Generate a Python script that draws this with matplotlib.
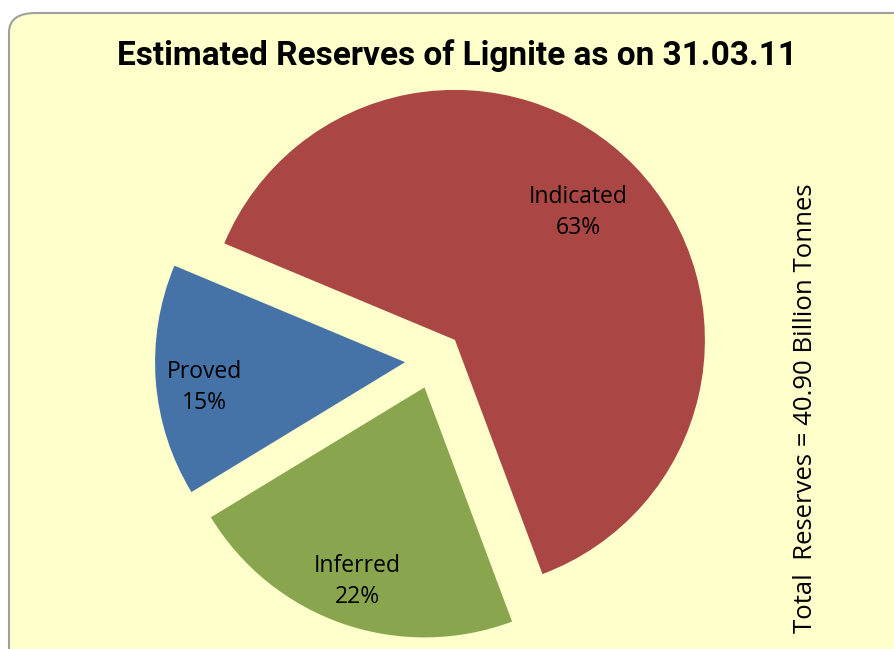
"""
pie of estimated lignite reserves, 31.03.11
"""

import numpy as np
import matplotlib
matplotlib.use("Agg")
import matplotlib.pyplot as plt
from matplotlib.patches import FancyBboxPatch

categories = ["Proved", "Indicated", "Inferred"]
shares = [15, 63, 22]
colors = ["#4572A7", "#AA4643", "#89A54E"]
label_dist = [0.81, 0.71, 0.82]
label_turn = [2.8, 2.0, 0.0]   # small angular nudge of each label, degrees

TITLE = "Estimated Reserves of Lignite as on 31.03.11"
SIDE_NOTE = "Total  Reserves = 40.90 Billion Tonnes"

W, H = 894, 649
fig = plt.figure(figsize=(W / 100, H / 100), dpi=100)
fig.patch.set_facecolor("white")

# rounded panel behind everything
panel = FancyBboxPatch((9 / W, -40 / H), (W + 20) / W, (H + 40 - 13) / H,
                       boxstyle="round,pad=0,rounding_size=0.03",
                       transform=fig.transFigure, facecolor="#FFFFCC",
                       edgecolor="#A0A0A0", linewidth=1.5, zorder=-5)
fig.patches.append(panel)

ax = fig.add_axes([0, 0, 1, 1])
ax.set_axis_off()

# explode is in data units here (pixels), pie doesn't scale it by radius
wedges, _ = ax.pie(shares, colors=colors, startangle=211.3, counterclock=False,
                   explode=[29] * 3, radius=250, center=(434, H - 360),
                   wedgeprops=dict(linewidth=0))
ax.set_xlim(0, W)
ax.set_ylim(0, H)
ax.set_aspect("equal")

for w, name, pct, dist, turn in zip(wedges, categories, shares, label_dist, label_turn):
    mid = np.deg2rad((w.theta1 + w.theta2) / 2 + turn)
    cx, cy = w.center
    x = cx + dist * w.r * np.cos(mid)
    y = cy + dist * w.r * np.sin(mid)
    ax.text(x, y, "%s\n%d%%" % (name, pct), ha="center", va="center",
            fontsize=16.5, family="Open Sans", linespacing=1.4)

fig.text(457 / W, 1 - 56 / H, TITLE, ha="center", va="center",
         fontsize=24, fontweight="bold", family="Roboto")
fig.text(805 / W, 1 - 408 / H, SIDE_NOTE, ha="center", va="center",
         rotation=90, fontsize=18.5, family="Open Sans")

fig.savefig("out.png", dpi=100)
